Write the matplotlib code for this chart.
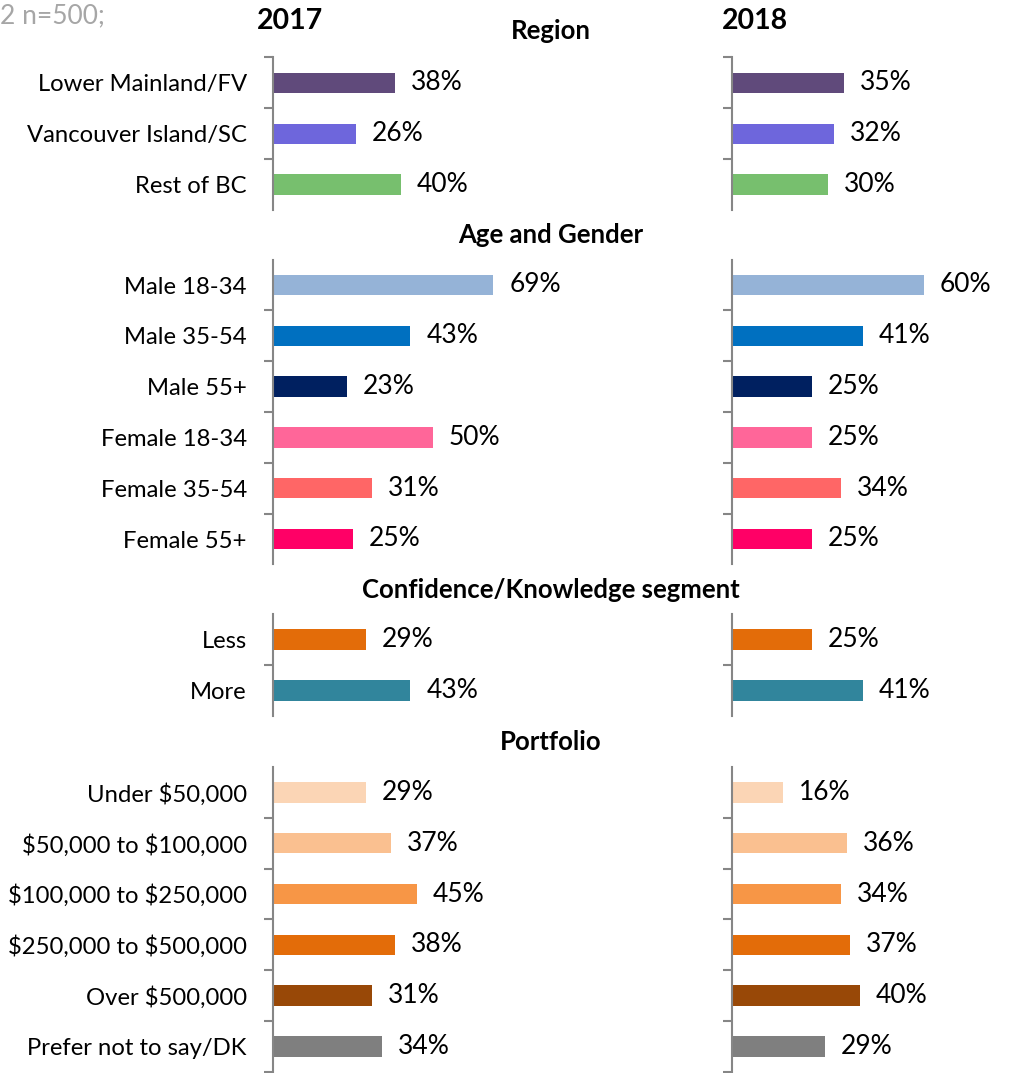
import matplotlib
matplotlib.use("Agg")
import matplotlib.pyplot as plt
import numpy as np

plt.rcParams['font.family'] = ['Lato', 'DejaVu Sans']
plt.rcParams['text.parse_math'] = False

# ---- data ----
groups = ["Region", "Age and Gender", "Confidence/Knowledge segment", "Portfolio"]

region_cats = ["Lower Mainland/FV", "Vancouver Island/SC", "Rest of BC"]
region_2017 = [38, 26, 40]
region_2018 = [35, 32, 30]
region_colors = ["#604A7B", "#6E66DC", "#77BF6E"]

age_cats = ["Male 18-34", "Male 35-54", "Male 55+", "Female 18-34", "Female 35-54", "Female 55+"]
age_2017 = [69, 43, 23, 50, 31, 25]
age_2018 = [60, 41, 25, 25, 34, 25]
age_colors = ["#95B3D7", "#0070C0", "#002060", "#FF6699", "#FF6666", "#FF0066"]

conf_cats = ["Less", "More"]
conf_2017 = [29, 43]
conf_2018 = [25, 41]
conf_colors = ["#E36C09", "#31859C"]

port_cats = ["Under $50,000", "$50,000 to $100,000", "$100,000 to $250,000",
             "$250,000 to $500,000", "Over $500,000", "Prefer not to say/DK"]
port_2017 = [29, 37, 45, 38, 31, 34]
port_2018 = [16, 36, 34, 37, 40, 29]
port_colors = ["#FBD5B5", "#FAC090", "#F79646", "#E36C09", "#984807", "#7F7F7F"]

years = ["2017", "2018"]
note = "2 n=500;"

# ---- layout (pixels) ----
W, H = 1010, 1073
fig = plt.figure(figsize=(W / 100, H / 100), dpi=100)

row_h = 50.8
px_per_pct = 3.19
xmax = 70
tops = [57.5, 259.6, 614.2, 767.0]
header_y = [31, 235, 590, 742]
left_x = [273.3, 732.3]

datasets = [
    (region_cats, region_2017, region_2018, region_colors),
    (age_cats, age_2017, age_2018, age_colors),
    (conf_cats, conf_2017, conf_2018, conf_colors),
    (port_cats, port_2017, port_2018, port_colors),
]

spine_col = "#868686"
fs_cat = 17.2
fs_val = 19.0

for gi, (cats, v17, v18, cols) in enumerate(datasets):
    n = len(cats)
    top = tops[gi]
    hpx = n * row_h
    for pi, vals in enumerate([v17, v18]):
        ax = fig.add_axes([left_x[pi] / W, 1 - (top + hpx) / H,
                           xmax * px_per_pct / W, hpx / H])
        y = np.arange(n)
        ax.barh(y, vals, height=0.4, color=cols)
        ax.set_ylim(n - 0.5, -0.5)
        ax.set_xlim(0, xmax)
        for s in ["top", "right", "bottom"]:
            ax.spines[s].set_visible(False)
        ax.spines["left"].set_color(spine_col)
        ax.spines["left"].set_linewidth(1.5)
        ax.set_xticks([])
        ax.set_yticks(y)
        if pi == 0:
            ax.set_yticklabels(cats, fontsize=fs_cat)
        else:
            ax.set_yticklabels([])
        ax.tick_params(axis="y", which="major", length=0, pad=19)
        bounds = list(np.arange(0.5, n - 0.5, 1.0))
        if gi == 0:
            bounds = [-0.5] + bounds
        if gi == len(datasets) - 1:
            bounds = bounds + [n - 0.5]
        ax.set_yticks(bounds, minor=True)
        ax.tick_params(axis="y", which="minor", length=6.5, width=1.5,
                       color=spine_col, direction="out")
        ax.patch.set_visible(False)
        for yi, v in zip(y, vals):
            ax.annotate(f"{v}%", xy=(v, yi), xytext=(11.5, 0),
                        textcoords="offset points", ha="left", va="center",
                        fontsize=fs_val, annotation_clip=False)

    fig.text(551 / W, 1 - header_y[gi] / H, groups[gi], ha="center", va="center",
             fontsize=18.5, fontweight="bold")

fig.text(290 / W, 1 - 21 / H, years[0], ha="center", va="center",
         fontsize=20.5, fontweight="bold")
fig.text(755 / W, 1 - 21 / H, years[1], ha="center", va="center",
         fontsize=20.5, fontweight="bold")
fig.text(0, 1 - 16 / H, note, ha="left", va="center", fontsize=19, color="#A6A6A6")

fig.savefig("out.png", dpi=100)
